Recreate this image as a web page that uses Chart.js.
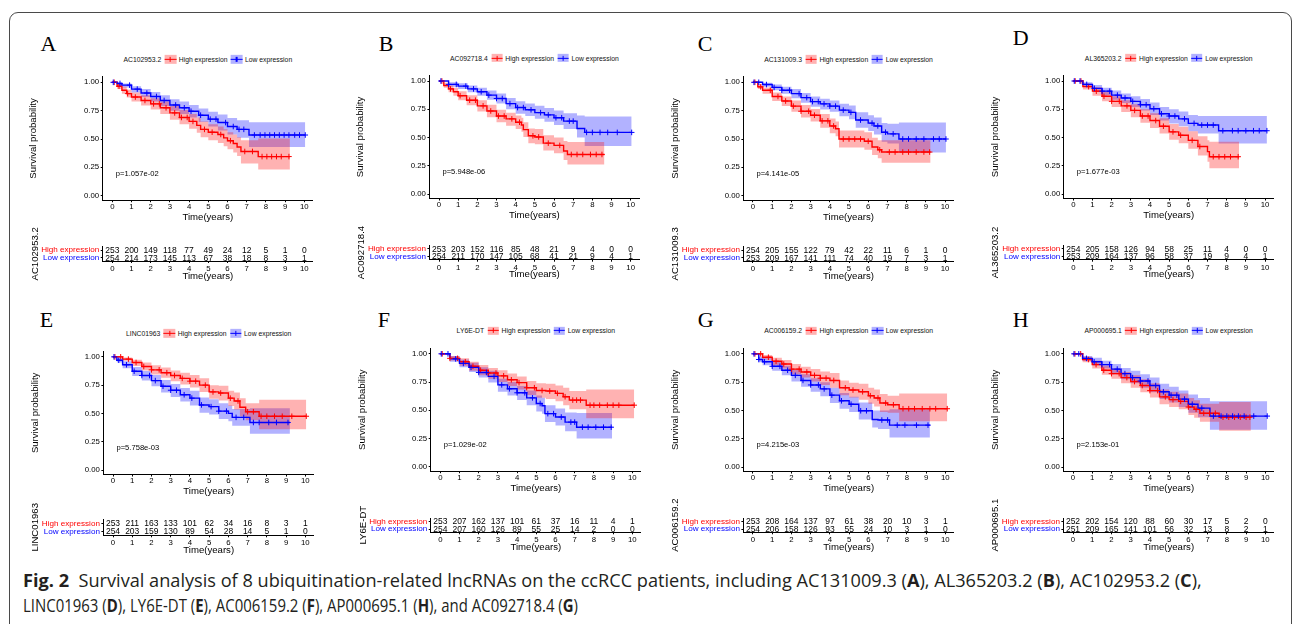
<!DOCTYPE html>
<html>
<head>
<meta charset="utf-8">
<script src="https://cdn.jsdelivr.net/npm/chart.js@4.4.1/dist/chart.umd.min.js"></script>
<style>
  body { margin: 0; width: 1292px; height: 624px; overflow: hidden; position: relative; background: #fff;
         font-family: "Liberation Sans", Arial, sans-serif; }
  #frame { position: absolute; left: 9px; top: 12px; width: 1283px; height: 700px; box-sizing: border-box;
           border: 1px solid #4a4a4a; border-radius: 9px; }
  canvas { position: absolute; }
  .letter { position: absolute; font-family: "Liberation Serif", "Times New Roman", serif; font-size: 22px;
            line-height: 22px; color: #000; }
  .legend { position: absolute; display: flex; align-items: center; font-size: 6.8px; color: #111;
            white-space: nowrap; transform: translate(-50%, -50%); }
  .key { position: relative; display: inline-block; width: 11.5px; height: 8.3px; margin: 0 2.6px 0 3.4px; }
  .key i { position: absolute; display: block; }
  #caption { position: absolute; left: 23px; top: 568px; font-family: "Open Sans", sans-serif; font-size: 15px;
             line-height: 25px; color: #231f20; white-space: nowrap; }
  #caption span { display: inline-block; transform-origin: 0 50%; }
  #caption b { font-weight: 700; }
</style>
</head>
<body>
<div id="frame"></div>
<div id="caption"><span id="cap1"><b>Fig. 2</b>&nbsp; Survival analysis of 8 ubiquitination-related lncRNAs on the ccRCC patients, including AC131009.3 (<b>A</b>), AL365203.2 (<b>B</b>), AC102953.2 (<b>C</b>),</span><br><span id="cap2">LINC01963 (<b>D</b>), LY6E-DT (<b>E</b>), AC006159.2 (<b>F</b>), AP000695.1 (<b>H</b>), and AC092718.4 (<b>G</b>)</span></div>
<script>
// ---- data ----
const letters = ['A', 'B', 'C', 'D', 'E', 'F', 'G', 'H'];
const genes = ['AC102953.2', 'AC092718.4', 'AC131009.3', 'AL365203.2', 'LINC01963', 'LY6E-DT', 'AC006159.2', 'AP000695.1'];
const pValues = ['p=1.057e-02', 'p=5.948e-06', 'p=4.141e-05', 'p=1.677e-03', 'p=5.758e-03', 'p=1.029e-02', 'p=4.215e-03', 'p=2.153e-01'];
const groupNames = ['High expression', 'Low expression'];
const xTicks = [0, 1, 2, 3, 4, 5, 6, 7, 8, 9, 10];
const yTicks = [0, 0.25, 0.5, 0.75, 1];
const yTickLabels = ['0.00', '0.25', '0.50', '0.75', '1.00'];

// rows: [time, survival, lower CI, upper CI]
const survHighA = [[0,1,1,1],[0.25,0.965,0.94,0.985],[0.5,0.93,0.9,0.96],[0.75,0.9,0.865,0.935],[1,0.87,0.83,0.91],[1.5,0.84,0.795,0.885],[2,0.81,0.76,0.86],[2.5,0.775,0.72,0.83],[3,0.73,0.67,0.79],[3.5,0.69,0.63,0.755],[4,0.655,0.59,0.72],[4.4,0.62,0.555,0.69],[4.6,0.585,0.515,0.655],[5,0.56,0.49,0.63],[5.5,0.54,0.465,0.61],[5.8,0.51,0.435,0.585],[6,0.485,0.41,0.56],[6.3,0.46,0.38,0.54],[6.5,0.43,0.35,0.515],[6.7,0.39,0.285,0.49],[7.6,0.345,0.23,0.505],[9.25,0.345,0.23,0.505]];
const survLowA = [[0,1,1,1],[0.25,0.99,0.975,1],[0.5,0.975,0.955,0.99],[1,0.94,0.91,0.965],[1.5,0.905,0.87,0.94],[2,0.875,0.83,0.915],[2.5,0.84,0.79,0.885],[3,0.8,0.75,0.85],[3.5,0.775,0.72,0.83],[4,0.745,0.69,0.8],[4.5,0.71,0.65,0.77],[5,0.675,0.61,0.74],[5.5,0.645,0.575,0.715],[6,0.61,0.54,0.685],[6.5,0.585,0.51,0.665],[7.12,0.535,0.43,0.647],[10.05,0.535,0.43,0.647]];
const censHighA = [0.1,0.35,0.8,1.2,1.7,2.15,2.45,2.8,3.25,3.6,3.9,4.2,4.8,5.2,5.65,6.15,6.9,7.3,7.8,8.05,8.3,8.55,8.8,9.2];
const censLowA = [0.05,0.4,0.9,1.3,1.8,2.3,2.7,3.3,3.75,4.1,4.6,5.1,5.4,5.9,6.3,6.6,6.85,7.4,7.7,7.95,8.2,8.45,8.7,8.95,9.2,9.5,9.75,10.05];
const riskHighA = [253,200,149,118,77,49,24,12,5,1,0];
const riskLowA = [254,214,173,145,113,67,38,18,8,3,1];

const survHighB = [[0,1,1,1],[0.25,0.96,0.94,0.985],[0.5,0.93,0.9,0.96],[0.75,0.905,0.87,0.94],[1,0.87,0.83,0.91],[1.44,0.83,0.785,0.875],[2,0.78,0.73,0.83],[2.5,0.735,0.68,0.79],[3,0.69,0.635,0.745],[3.5,0.665,0.605,0.72],[4,0.635,0.575,0.695],[4.3,0.61,0.55,0.675],[4.4,0.57,0.505,0.635],[4.66,0.515,0.45,0.58],[5,0.505,0.44,0.575],[5.44,0.45,0.385,0.52],[6,0.43,0.36,0.5],[6.5,0.38,0.3,0.47],[6.7,0.35,0.26,0.46],[8.63,0.35,0.26,0.46]];
const survLowB = [[0,1,1,1],[0.5,0.97,0.95,0.99],[1,0.955,0.93,0.98],[1.5,0.93,0.9,0.96],[2,0.905,0.87,0.94],[2.5,0.875,0.835,0.915],[3,0.845,0.8,0.89],[3.5,0.8,0.75,0.85],[4,0.765,0.71,0.82],[4.5,0.745,0.69,0.8],[5,0.72,0.665,0.78],[5.5,0.7,0.64,0.76],[6,0.675,0.61,0.74],[6.5,0.645,0.575,0.715],[7.2,0.58,0.5,0.695],[7.6,0.545,0.425,0.685],[10.05,0.545,0.425,0.685]];
const censHighB = [0.15,0.6,1.1,1.6,1.9,2.3,2.7,3.1,3.4,3.8,4.2,4.9,5.2,5.7,6.3,6.9,7.2,7.5,7.9,8.2,8.5];
const censLowB = [0.1,0.5,0.9,1.4,1.8,2.2,2.6,3,3.3,3.7,4.1,4.4,4.8,5.3,5.7,6.1,6.4,6.8,7,7.7,8,8.4,8.8,9.3,10.05];
const riskHighB = [253,203,152,116,85,48,21,9,4,0,0];
const riskLowB = [254,211,170,147,105,68,41,21,9,4,1];

const survHighC = [[0,1,1,1],[0.25,0.96,0.94,0.985],[0.5,0.93,0.9,0.955],[1,0.875,0.835,0.91],[1.5,0.835,0.79,0.875],[2,0.79,0.74,0.84],[2.5,0.745,0.69,0.8],[3,0.71,0.655,0.765],[3.5,0.66,0.6,0.72],[4,0.615,0.55,0.68],[4.3,0.59,0.525,0.655],[4.48,0.5,0.425,0.575],[5.8,0.48,0.405,0.56],[6.2,0.43,0.36,0.51],[6.5,0.405,0.33,0.49],[6.7,0.385,0.29,0.49],[9.25,0.385,0.29,0.49]];
const survLowC = [[0,1,1,1],[0.5,0.98,0.96,0.995],[1,0.955,0.93,0.98],[1.5,0.93,0.9,0.96],[2,0.9,0.86,0.94],[2.5,0.865,0.82,0.905],[3,0.83,0.785,0.875],[3.5,0.81,0.76,0.855],[4,0.79,0.74,0.84],[4.5,0.755,0.7,0.81],[5,0.735,0.675,0.795],[5.35,0.667,0.6,0.735],[6,0.64,0.57,0.71],[6.3,0.615,0.54,0.69],[6.7,0.56,0.475,0.64],[7,0.545,0.46,0.635],[7.6,0.5,0.38,0.645],[10.05,0.5,0.38,0.645]];
const censHighC = [0.1,0.4,0.9,1.3,1.7,2.1,2.5,2.9,3.2,3.6,3.9,4.2,4.7,5,5.3,5.6,6,6.6,7.1,7.4,7.8,8.1,8.5,8.9,9.2];
const censLowC = [0.05,0.3,0.7,1.1,1.5,1.9,2.4,2.8,3.1,3.4,3.7,4,4.3,4.7,5.1,5.6,6.2,6.5,6.9,7.3,7.8,8.1,8.5,8.9,9.4,9.7,10.05];
const riskHighC = [254,205,155,122,79,42,22,11,6,1,0];
const riskLowC = [253,209,167,141,111,74,40,19,7,3,1];

const survHighD = [[0,1,1,1],[0.5,0.95,0.925,0.975],[1,0.91,0.87,0.945],[1.5,0.865,0.82,0.905],[2,0.82,0.77,0.865],[2.5,0.78,0.725,0.83],[3,0.74,0.68,0.795],[3.5,0.69,0.63,0.75],[4,0.65,0.585,0.715],[4.5,0.6,0.535,0.67],[5,0.55,0.48,0.62],[5.5,0.52,0.45,0.595],[6,0.475,0.4,0.555],[6.5,0.42,0.34,0.51],[7,0.375,0.285,0.475],[7.1,0.33,0.227,0.463],[8.65,0.33,0.227,0.463]];
const survLowD = [[0,1,1,1],[0.5,0.97,0.95,0.99],[1,0.935,0.905,0.965],[1.5,0.91,0.875,0.94],[2,0.875,0.835,0.915],[2.5,0.85,0.805,0.89],[3,0.82,0.77,0.865],[3.5,0.79,0.74,0.84],[4,0.755,0.7,0.81],[4.5,0.71,0.65,0.77],[5,0.69,0.625,0.75],[5.5,0.665,0.6,0.73],[6,0.625,0.555,0.7],[6.5,0.61,0.535,0.69],[7.58,0.56,0.448,0.69],[10.1,0.56,0.448,0.69]];
const censHighD = [0.1,0.4,0.8,1.2,1.6,2,2.4,2.8,3.2,3.6,3.9,4.3,4.7,5.2,5.6,6.2,6.6,7.3,7.6,7.9,8.2,8.6];
const censLowD = [0.05,0.35,0.7,1.1,1.5,1.9,2.3,2.7,3.1,3.5,3.8,4.2,4.6,5,5.3,5.8,6.3,6.7,7,7.3,7.8,8.3,8.6,9,9.4,9.7,10.1];
const riskHighD = [254,205,158,126,94,58,25,11,4,0,0];
const riskLowD = [253,209,164,137,96,58,37,19,9,4,1];

const survHighE = [[0,1,1,1],[0.5,0.98,0.965,0.995],[1,0.95,0.92,0.975],[1.5,0.915,0.88,0.95],[2,0.885,0.845,0.925],[2.5,0.86,0.815,0.905],[3,0.835,0.785,0.88],[3.5,0.81,0.755,0.86],[4,0.785,0.73,0.84],[4.5,0.75,0.69,0.81],[5,0.69,0.63,0.75],[5.5,0.68,0.615,0.745],[6,0.635,0.565,0.7],[6.3,0.61,0.535,0.685],[6.6,0.555,0.475,0.635],[6.9,0.515,0.44,0.59],[7.6,0.475,0.36,0.62],[10.05,0.475,0.36,0.62]];
const survLowE = [[0,1,1,1],[0.2,0.97,0.95,0.99],[0.5,0.93,0.9,0.96],[1,0.873,0.83,0.91],[1.5,0.835,0.79,0.875],[2,0.79,0.74,0.84],[2.5,0.74,0.685,0.795],[3,0.705,0.645,0.76],[3.5,0.665,0.605,0.725],[4,0.635,0.57,0.7],[4.5,0.575,0.505,0.64],[5,0.56,0.49,0.625],[5.5,0.52,0.45,0.59],[6,0.5,0.43,0.57],[6.2,0.465,0.39,0.54],[7.12,0.42,0.32,0.545],[9.2,0.42,0.32,0.545]];
const censHighE = [0.1,0.4,0.8,1.2,1.6,2,2.4,2.8,3.2,3.6,4,4.3,4.8,5.2,5.6,6.1,6.5,7,7.3,7.7,8,8.4,8.8,9.3,10.05];
const censLowE = [0.05,0.3,0.7,1.1,1.5,1.9,2.2,2.6,3,3.3,3.7,4.1,4.6,5.1,5.5,5.9,6.4,6.8,7.3,7.6,8.1,8.5,9.1];
const riskHighE = [253,211,163,133,101,62,34,16,8,3,1];
const riskLowE = [254,203,159,130,89,54,28,14,5,1,0];

const survHighF = [[0,1,1,1],[0.5,0.96,0.94,0.98],[1,0.93,0.895,0.96],[1.5,0.89,0.85,0.93],[2,0.855,0.81,0.9],[2.5,0.83,0.78,0.875],[3,0.805,0.75,0.855],[3.5,0.77,0.715,0.825],[4,0.745,0.685,0.8],[4.5,0.7,0.635,0.76],[5,0.675,0.61,0.74],[5.5,0.67,0.6,0.735],[6,0.65,0.58,0.72],[6.4,0.62,0.545,0.7],[6.72,0.59,0.51,0.67],[7.6,0.545,0.43,0.685],[10.1,0.545,0.43,0.685]];
const survLowF = [[0,1,1,1],[0.5,0.955,0.93,0.98],[1,0.915,0.88,0.95],[1.5,0.88,0.84,0.92],[2,0.835,0.79,0.88],[2.5,0.8,0.745,0.85],[3,0.725,0.665,0.78],[3.5,0.69,0.63,0.75],[4,0.655,0.59,0.715],[4.5,0.61,0.545,0.675],[5,0.56,0.49,0.63],[5.3,0.54,0.47,0.61],[5.45,0.47,0.395,0.545],[6,0.44,0.365,0.515],[6.5,0.395,0.315,0.48],[7.1,0.35,0.25,0.475],[8.95,0.35,0.25,0.475]];
const censHighF = [0.1,0.5,0.9,1.3,1.7,2.1,2.5,2.9,3.3,3.7,4.1,4.5,4.9,5.3,5.7,6.1,6.5,6.9,7.1,7.3,7.8,8,8.3,8.7,9,9.3,10.1];
const censLowF = [0.05,0.4,0.8,1.2,1.6,2,2.4,2.8,3.2,3.6,4,4.4,4.8,5.2,5.6,5.9,6.3,6.8,7,7.4,7.7,8.1,8.5,8.9];
const riskHighF = [253,207,162,137,101,61,37,16,11,4,1];
const riskLowF = [254,207,160,126,89,55,25,14,2,0,0];

const survHighG = [[0,1,1,1],[0.5,0.97,0.95,0.99],[1,0.935,0.9,0.965],[1.5,0.91,0.87,0.945],[2,0.865,0.82,0.91],[2.5,0.84,0.79,0.885],[3,0.81,0.755,0.865],[3.5,0.785,0.725,0.845],[4,0.765,0.7,0.83],[4.5,0.7,0.635,0.765],[5,0.68,0.615,0.745],[5.5,0.665,0.595,0.735],[6,0.63,0.56,0.7],[6.3,0.61,0.535,0.685],[6.6,0.565,0.485,0.645],[7,0.55,0.48,0.63],[7.6,0.515,0.405,0.65],[10.1,0.515,0.405,0.65]];
const survLowG = [[0,1,1,1],[0.3,0.95,0.925,0.975],[0.5,0.93,0.9,0.96],[1,0.89,0.85,0.93],[1.5,0.855,0.81,0.895],[2,0.81,0.755,0.86],[2.5,0.765,0.71,0.82],[3,0.725,0.665,0.785],[3.5,0.69,0.625,0.75],[4,0.635,0.565,0.7],[4.5,0.585,0.515,0.655],[5,0.555,0.485,0.62],[5.5,0.497,0.42,0.57],[6.2,0.42,0.35,0.5],[6.5,0.415,0.335,0.5],[7.1,0.37,0.26,0.51],[9.2,0.37,0.26,0.51]];
const censHighG = [0.1,0.4,0.8,1.2,1.6,2,2.4,2.8,3.2,3.5,3.8,4.2,4.8,5.2,5.7,6.1,6.5,6.9,7.3,7.8,8.1,8.4,8.8,9.2,9.5,10.1];
const censLowG = [0.05,0.3,0.6,1,1.4,1.8,2.2,2.6,3,3.4,3.7,4.1,4.6,5.1,5.6,5.9,6.7,7,7.5,7.9,8.5,9.1];
const riskHighG = [253,208,164,137,97,61,38,20,10,3,1];
const riskLowG = [254,206,158,126,93,55,24,10,3,1,0];

const survHighH = [[0,1,1,1],[0.5,0.95,0.925,0.975],[1,0.905,0.87,0.94],[1.5,0.855,0.815,0.895],[2,0.825,0.78,0.87],[2.5,0.79,0.74,0.84],[3,0.755,0.7,0.81],[3.5,0.72,0.66,0.775],[4,0.675,0.615,0.74],[4.5,0.62,0.555,0.685],[5,0.595,0.53,0.665],[5.5,0.58,0.51,0.65],[6,0.53,0.46,0.61],[6.3,0.51,0.435,0.59],[6.6,0.475,0.4,0.56],[7.6,0.44,0.32,0.575],[9.25,0.44,0.32,0.575]];
const survLowH = [[0,1,1,1],[0.5,0.96,0.94,0.98],[1,0.93,0.9,0.965],[1.5,0.905,0.87,0.94],[2,0.865,0.82,0.91],[2.5,0.825,0.775,0.875],[3,0.79,0.74,0.85],[3.5,0.76,0.7,0.82],[4,0.72,0.66,0.79],[4.5,0.665,0.6,0.735],[5,0.635,0.57,0.71],[5.5,0.6,0.53,0.675],[6,0.555,0.48,0.64],[6.5,0.52,0.44,0.61],[7.12,0.45,0.33,0.58],[10.1,0.45,0.33,0.58]];
const censHighH = [0.1,0.4,0.8,1.2,1.6,2,2.4,2.8,3.2,3.6,4,4.4,4.8,5.2,5.6,6,6.4,6.8,7.1,7.4,7.8,8.1,8.4,8.7,9,9.2];
const censLowH = [0.05,0.3,0.7,1.1,1.5,1.9,2.3,2.7,3.1,3.5,3.9,4.3,4.7,5.1,5.4,5.8,6.2,6.7,7.3,7.7,8,8.3,8.6,8.9,9.4,10.1];
const riskHighH = [252,202,154,120,88,60,30,17,5,2,0];
const riskLowH = [251,209,165,141,101,56,32,13,8,2,1];

const survHigh = [survHighA, survHighB, survHighC, survHighD, survHighE, survHighF, survHighG, survHighH];
const survLow = [survLowA, survLowB, survLowC, survLowD, survLowE, survLowF, survLowG, survLowH];
const censHigh = [censHighA, censHighB, censHighC, censHighD, censHighE, censHighF, censHighG, censHighH];
const censLow = [censLowA, censLowB, censLowC, censLowD, censLowE, censLowF, censLowG, censLowH];
const riskHigh = [riskHighA, riskHighB, riskHighC, riskHighD, riskHighE, riskHighF, riskHighG, riskHighH];
const riskLow = [riskLowA, riskLowB, riskLowC, riskLowD, riskLowE, riskLowF, riskLowG, riskLowH];

// ---- page layout (pixel positions of each panel) ----
const layout = [
  {x0: 112.3, x10: 304.3, y1: 82.3, y0: 195.7, survTitleX: 33, riskHigh: 250, riskLow: 257.7, riskAxis: 261, riskTitleX: 35, legendY: 59.3, letterX: 40.4, letterTop: 33},
  {x0: 439, x10: 630.7, y1: 81, y0: 194, survTitleX: 360.7, riskHigh: 248.7, riskLow: 256.3, riskAxis: 259.7, riskTitleX: 361.7, legendY: 58, letterX: 378.7, letterTop: 33},
  {x0: 753, x10: 945, y1: 82.3, y0: 195.7, survTitleX: 675, riskHigh: 250, riskLow: 257.7, riskAxis: 261, riskTitleX: 675, legendY: 59.3, letterX: 697.7, letterTop: 33},
  {x0: 1073.3, x10: 1265, y1: 81, y0: 194, survTitleX: 995, riskHigh: 248.7, riskLow: 256.3, riskAxis: 259.7, riskTitleX: 995, legendY: 58, letterX: 1012.7, letterTop: 27},
  {x0: 113, x10: 305.3, y1: 356.7, y0: 470, survTitleX: 35, riskHigh: 523.3, riskLow: 531.3, riskAxis: 535.3, riskTitleX: 35, legendY: 333.3, letterX: 39.7, letterTop: 309},
  {x0: 440.3, x10: 632.3, y1: 353.7, y0: 466.7, survTitleX: 362.7, riskHigh: 521.3, riskLow: 529, riskAxis: 532.3, riskTitleX: 363, legendY: 330.7, letterX: 377.7, letterTop: 309},
  {x0: 753, x10: 945.3, y1: 353.7, y0: 467, survTitleX: 675, riskHigh: 521.3, riskLow: 529, riskAxis: 532.3, riskTitleX: 675, legendY: 330.7, letterX: 697.7, letterTop: 309},
  {x0: 1073, x10: 1265.3, y1: 353.7, y0: 467, survTitleX: 995.7, riskHigh: 521.3, riskLow: 529, riskAxis: 532.3, riskTitleX: 995, legendY: 330.7, letterX: 1012.7, letterTop: 309}
];

const X_MIN = -0.5, X_MAX = 10.45, Y_MIN = -0.04, Y_MAX = 1.05;
const P_POS = [0.18, 0.195];
const RED = '#ff0000', BLUE = '#0000ff';
const RED_FILL = 'rgba(255,0,0,0.3)', BLUE_FILL = 'rgba(0,0,255,0.3)';
const INK = '#000';
const FONT = '"Liberation Sans", Arial, sans-serif';
Chart.defaults.font.family = FONT;

function stepValue(rows, t) {
  let v = rows[0][1];
  for (const r of rows) if (r[0] <= t) v = r[1];
  return v;
}
function column(rows, idx) { return rows.map(r => ({x: r[0], y: r[idx]})); }

function addCanvas(left, top, w, h) {
  const c = document.createElement('canvas');
  c.width = w; c.height = h;
  c.style.left = left + 'px'; c.style.top = top + 'px';
  c.style.width = w + 'px'; c.style.height = h + 'px';
  document.body.appendChild(c);
  return c;
}

const pValuePlugin = {
  id: 'pValue',
  afterDatasetsDraw(chart, args, opts) {
    const {ctx, scales: {x, y}} = chart;
    ctx.save();
    ctx.font = '7.6px ' + FONT;
    ctx.fillStyle = INK;
    ctx.textAlign = 'left';
    ctx.textBaseline = 'middle';
    ctx.fillText(opts.text, x.getPixelForValue(P_POS[0]), y.getPixelForValue(P_POS[1]));
    ctx.restore();
  }
};

const riskTextPlugin = {
  id: 'riskText',
  afterDatasetsDraw(chart) {
    const ctx = chart.ctx;
    ctx.save();
    ctx.font = '8.5px ' + FONT;
    ctx.fillStyle = INK;
    ctx.textAlign = 'center';
    ctx.textBaseline = 'middle';
    chart.data.datasets.forEach((ds, di) => {
      chart.getDatasetMeta(di).data.forEach((pt, j) => ctx.fillText(String(ds.data[j].n), pt.x, pt.y + 0.5));
    });
    ctx.restore();
  }
};

function xAxis(height, tickPad) {
  return {
    type: 'linear', min: X_MIN, max: X_MAX,
    afterBuildTicks: s => { s.ticks = xTicks.map(v => ({value: v})); },
    ticks: {callback: v => String(v), color: INK, font: {size: 7.8}, padding: tickPad, maxRotation: 0, autoSkip: false},
    grid: {drawOnChartArea: false, tickLength: 2, color: INK},
    border: {color: INK, width: 1},
    title: {display: true, text: 'Time(years)', color: INK, font: {size: 9.6}, padding: 0},
    afterFit: s => { s.height = height; }
  };
}

function survivalChart(i) {
  const g = layout[i];
  const hi = survHigh[i], lo = survLow[i];
  const k = (g.x10 - g.x0) / 10, h = g.y0 - g.y1;
  const L = g.x0 + X_MIN * k, R = g.x0 + X_MAX * k;
  const T = g.y0 - Y_MAX * h, B = g.y0 - Y_MIN * h;
  const tx = g.survTitleX - 5.7;
  const cl = Math.floor(tx), ct = Math.floor(T - 6), cr = Math.ceil(R + 6), cb = Math.ceil(B + 26);
  const XH = 23;
  const line = {showLine: true, stepped: true, pointRadius: 0, fill: false};
  new Chart(addCanvas(cl, ct, cr - cl, cb - ct), {
    type: 'line',
    data: {
      datasets: [
        {data: censLow[i].map(t => ({x: t, y: stepValue(lo, t)})), showLine: false, pointStyle: 'cross', pointRadius: 2.8, borderColor: BLUE, borderWidth: 1},
        {data: censHigh[i].map(t => ({x: t, y: stepValue(hi, t)})), showLine: false, pointStyle: 'cross', pointRadius: 2.8, borderColor: RED, borderWidth: 1},
        {...line, data: column(lo, 1), borderColor: BLUE, borderWidth: 1.4},
        {...line, data: column(hi, 1), borderColor: RED, borderWidth: 1.4},
        {...line, data: column(hi, 3), fill: '+1', backgroundColor: RED_FILL, borderWidth: 0},
        {...line, data: column(hi, 2), borderWidth: 0},
        {...line, data: column(lo, 3), fill: '+1', backgroundColor: BLUE_FILL, borderWidth: 0},
        {...line, data: column(lo, 2), borderWidth: 0}
      ]
    },
    options: {
      responsive: false, animation: false, events: [],
      layout: {padding: {left: 0, top: T - ct, right: cr - R, bottom: cb - B - XH}},
      plugins: {legend: {display: false}, tooltip: {enabled: false}, pValue: {text: pValues[i]}},
      scales: {
        x: xAxis(XH, 0),
        y: {
          type: 'linear', min: Y_MIN, max: Y_MAX,
          afterBuildTicks: s => { s.ticks = yTicks.map(v => ({value: v})); },
          ticks: {callback: v => yTickLabels[yTicks.indexOf(v)], color: INK, font: {size: 7.8}, padding: 1.5},
          grid: {drawOnChartArea: false, tickLength: 2, color: INK},
          border: {color: INK, width: 1},
          title: {display: true, text: 'Survival probability', color: INK, font: {size: 9.6}, padding: {top: tx - cl, bottom: 0}},
          afterFit: s => { s.width = L - cl; }
        }
      }
    },
    plugins: [pValuePlugin]
  });
}

function riskChart(i) {
  const g = layout[i];
  const k = (g.x10 - g.x0) / 10;
  const L = g.x0 + X_MIN * k, R = g.x0 + X_MAX * k;
  const gap = g.riskLow - g.riskHigh, m = (g.riskAxis - g.riskLow) / gap;
  const T = g.riskHigh - m * gap, B = g.riskAxis;
  const tx = g.riskTitleX - 5.7;
  const cl = Math.floor(tx), ct = Math.floor(T - 32), cr = Math.ceil(R + 6), cb = Math.ceil(B + 24);
  const XH = 20.7;
  new Chart(addCanvas(cl, ct, cr - cl, cb - ct), {
    type: 'line',
    data: {
      datasets: [
        {data: xTicks.map((t, j) => ({x: t, y: 1, n: riskHigh[i][j]})), showLine: false, pointRadius: 0},
        {data: xTicks.map((t, j) => ({x: t, y: 0, n: riskLow[i][j]})), showLine: false, pointRadius: 0}
      ]
    },
    options: {
      responsive: false, animation: false, events: [],
      layout: {padding: {left: 0, top: T - ct, right: cr - R, bottom: cb - B - XH}},
      plugins: {legend: {display: false}, tooltip: {enabled: false}},
      scales: {
        x: xAxis(XH, 1),
        y: {
          type: 'linear', min: -m, max: 1 + m,
          afterBuildTicks: s => { s.ticks = [{value: 1}, {value: 0}]; },
          ticks: {callback: v => v === 1 ? groupNames[0] : groupNames[1], color: c => c.tick && c.tick.value === 1 ? RED : BLUE, font: {size: 8.1}, padding: 1.5},
          grid: {drawOnChartArea: false, tickLength: 2, color: INK},
          border: {color: INK, width: 1},
          title: {display: true, text: genes[i], color: INK, font: {size: 9.6}, padding: {top: tx - cl, bottom: 0}},
          afterFit: s => { s.width = L - cl; }
        }
      }
    },
    plugins: [riskTextPlugin]
  });
}

function keyHtml(fill, col) {
  return `<span class="key" style="background:${fill}"><i style="left:0;right:0;top:3.5px;height:1.3px;background:${col}"></i><i style="left:5.1px;width:1.2px;top:1.5px;height:5.3px;background:${col}"></i></span>`;
}

function decorations(i) {
  const g = layout[i];
  const k = (g.x10 - g.x0) / 10;
  const L = g.x0 + X_MIN * k, R = g.x0 + X_MAX * k;
  const letter = document.createElement('div');
  letter.className = 'letter';
  letter.textContent = letters[i];
  letter.style.left = g.letterX + 'px';
  letter.style.top = g.letterTop + 'px';
  document.body.appendChild(letter);
  const lg = document.createElement('div');
  lg.className = 'legend';
  lg.style.left = ((L + R) / 2) + 'px';
  lg.style.top = g.legendY + 'px';
  lg.innerHTML = `<span>${genes[i]}</span>${keyHtml(RED_FILL, RED)}<span>${groupNames[0]}</span>${keyHtml(BLUE_FILL, BLUE)}<span>${groupNames[1]}</span>`;
  document.body.appendChild(lg);
}

for (let i = 0; i < 8; i++) {
  survivalChart(i);
  riskChart(i);
  decorations(i);
}

// caption: size the font so line 1 spans its width in the figure,
// then narrow line 2 (the figure's typeface has narrow capitals and digits)
const caption = document.getElementById('caption');
const cap1 = document.getElementById('cap1');
const cap2 = document.getElementById('cap2');
caption.style.fontSize = (15 * 1180 / cap1.getBoundingClientRect().width) + 'px';
cap2.style.transform = 'scaleX(' + (555 / cap2.getBoundingClientRect().width) + ')';
</script>
</body>
</html>
